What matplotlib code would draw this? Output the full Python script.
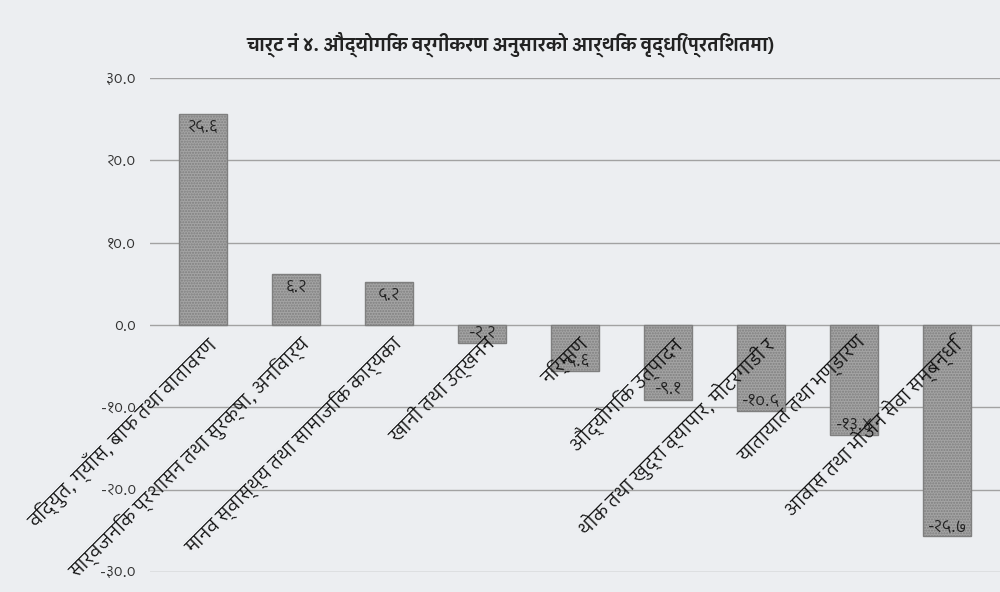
import matplotlib
matplotlib.use("Agg")
import matplotlib.pyplot as plt
from matplotlib import font_manager
from matplotlib.ft2font import FT2Font

# ---- data ----
categories = [
    "विद्युत, ग्याँस, बाफ तथा वातावरण",
    "सार्वजनिक प्रशासन तथा सुरक्षा, अनिवार्य",
    "मानव स्वास्थ्य तथा सामाजिक कार्यका",
    "खानी तथा उत्खनन",
    "निर्माण",
    "औद्योगिक उत्पादन",
    "थोक तथा खुद्रा व्यापार, मोटरगाडी र",
    "यातायात तथा भण्डारण",
    "आवास तथा भोजन सेवा सम्बन्धि",
]
values = [25.6, 6.2, 5.2, -2.2, -5.6, -9.1, -10.5, -13.4, -25.7]
yticks = [30, 20, 10, 0, -10, -20, -30]
title = "चार्ट नं ४. औद्योगिक वर्गीकरण अनुसारको आर्थिक वृद्धि(प्रतिशतमा)"

# ---- find a (preferably proportional sans) font that has Devanagari glyphs ----
cands = []
for f in font_manager.fontManager.ttflist:
    try:
        if 0x0915 in FT2Font(f.fname).get_charmap():
            cands.append(f)
    except Exception:
        pass

def rank(f):
    n = f.name.lower()
    score = 0
    if "devanagari" in n:
        score -= 10
    if "sans" in n:
        score -= 5
    if "mono" in n or "code" in n:
        score += 20
    if "serif" in n and "sans" not in n:
        score += 3
    if f.weight not in ("normal", 400, "regular", "book"):
        score += 1
    if f.style != "normal":
        score += 2
    return score

cands.sort(key=rank)
deva = cands[0].name if cands else None
families = ([deva] if deva else []) + ["DejaVu Sans"]
plt.rcParams["font.family"] = families

DEV = str.maketrans("0123456789", "०१२३४५६७८९")
def dev(s):
    return s.translate(DEV)

bg = "#eceef1"
fig = plt.figure(figsize=(10, 5.92), dpi=100, facecolor=bg)
ax = fig.add_axes([0.15, 0.034, 0.85, 0.834], facecolor=bg)

x = list(range(len(values)))
ax.bar(x, values, width=0.52, color="#a4a4a4", edgecolor="#7f7f7f",
       linewidth=1.0, hatch="......", zorder=3)

ax.set_xlim(-0.57, len(values) - 0.43)
ax.set_ylim(-30, 30)
ax.set_yticks(yticks)
ax.set_yticklabels([dev(f"{v:.1f}") for v in yticks], fontsize=11, color="#333333")
ax.tick_params(axis="y", length=0, pad=10)
ax.set_xticks([])
ax.grid(axis="y", color="#a2a2a2", linewidth=1.0, zorder=0)
for s in ax.spines.values():
    s.set_visible(False)

# value labels
for xi, v in zip(x, values):
    if v >= 0:
        ax.annotate(dev(f"{v:.1f}"), (xi, v), xytext=(0, -3), textcoords="offset points",
                    ha="center", va="top", fontsize=12, color="#222222", zorder=5)
    else:
        ax.annotate(dev(f"{v:.1f}"), (xi, v), xytext=(0, 2), textcoords="offset points",
                    ha="center", va="bottom", fontsize=12, color="#222222", zorder=5)

# category labels rotated along the zero line
for xi, c in zip(x, categories):
    ax.annotate(c, (xi, 0), xytext=(2, -6), textcoords="offset points",
                ha="right", va="top", rotation=45, rotation_mode="anchor",
                fontsize=13.5, color="#111111", zorder=6)

fig.text(0.51, 0.925, title, ha="center", va="center", fontsize=13,
         fontweight="bold", color="#222222")

fig.savefig("out.png", dpi=100, facecolor=bg)
